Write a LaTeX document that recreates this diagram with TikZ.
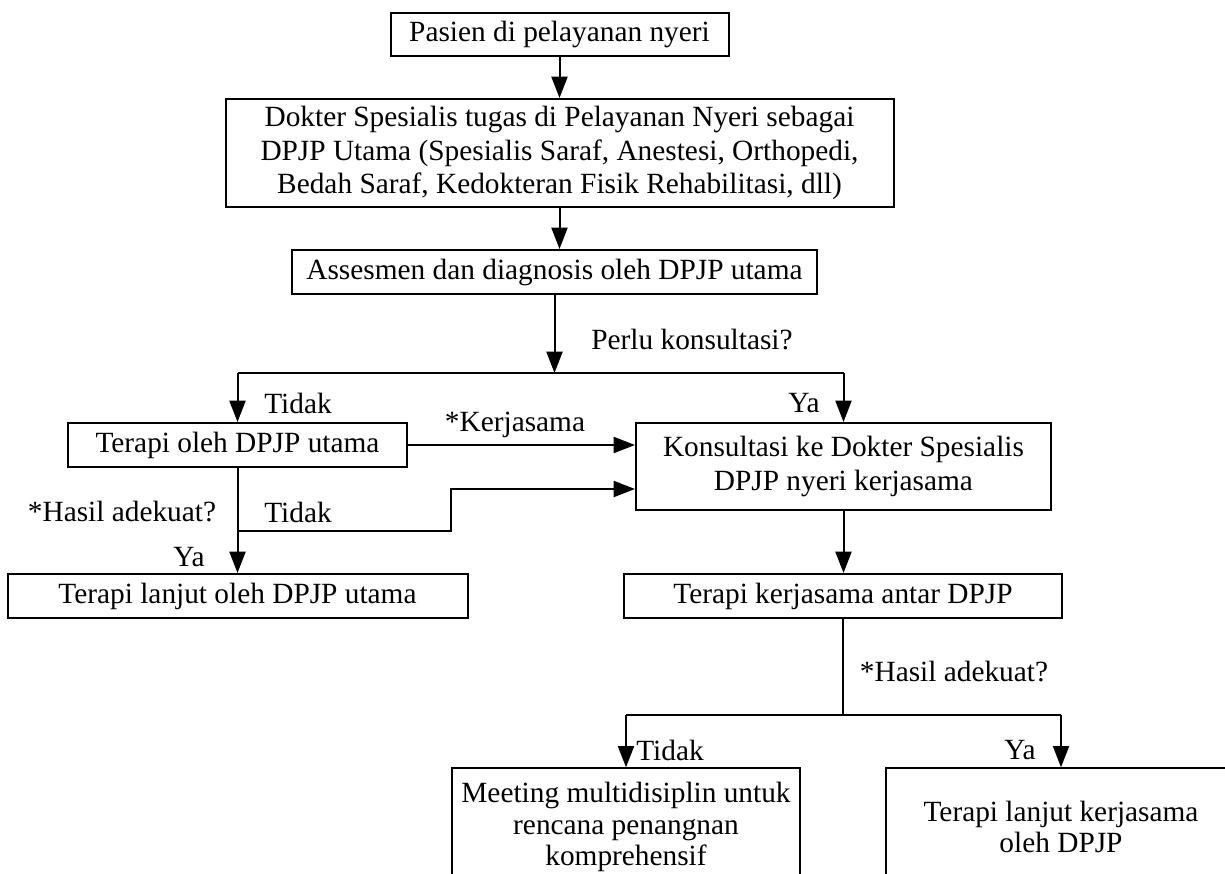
\documentclass[tikz,border=0pt]{standalone}
\usepackage{fontspec}
\setmainfont{Liberation Serif}
\usetikzlibrary{arrows.meta}
\begin{document}
\begin{tikzpicture}[x=0.75pt,y=-0.75pt,
  box/.style={draw,line width=1.5pt,inner sep=0pt,align=center,font=\fontsize{22}{25}\selectfont},
  lbl/.style={inner sep=0pt,font=\fontsize{22}{25}\selectfont},
  arr/.style={line width=1.5pt,-{Triangle[length=16pt,width=12pt]}},
  ln/.style={line width=1.5pt}]
\useasboundingbox (0,0) rectangle (1225,874);
\clip (0,0) rectangle (1225,874);
% boxes
\node[box,minimum width=253.5pt,minimum height=32.25pt] (b1) at (559.5,34.5) {Pasien di pelayanan nyeri};
\node[box,minimum width=501pt,minimum height=81pt] (b2) at (559.5,153) {Dokter Spesialis tugas di Pelayanan Nyeri sebagai\\DPJP Utama (Spesialis Saraf, Anestesi, Orthopedi,\\Bedah Saraf, Kedokteran Fisik Rehabilitasi, dll)};
\node[box,minimum width=393.75pt,minimum height=33pt] (b3) at (554.5,272) {Assesmen dan diagnosis oleh DPJP utama};
\node[box,minimum width=254.25pt,minimum height=33pt] (ter) at (237.5,445) {Terapi oleh DPJP utama};
\node[box,minimum width=311.25pt,minimum height=65.25pt] (kons) at (843.5,466.5) {Konsultasi ke Dokter Spesialis\\DPJP nyeri kerjasama};
\node[box,minimum width=345pt,minimum height=33pt] (lan) at (237.5,596) {Terapi lanjut oleh DPJP utama};
\node[box,minimum width=328.5pt,minimum height=33pt] (tk) at (843,596) {Terapi kerjasama antar DPJP};
\node[box,minimum width=261pt,minimum height=88pt,font=\fontsize{22}{23.5}\selectfont] (meet) at (626,827) {Meeting multidisiplin untuk\\rencana penangnan\\komprehensif};
\node[box,minimum width=262.5pt,minimum height=88pt,font=\fontsize{22}{23.5}\selectfont] (tlk) at (1061,827) {Terapi lanjut kerjasama\\oleh DPJP};
% labels
\node[lbl] (l1) at (692,340) {Perlu konsultasi?};
\node[lbl] (l2) at (298,403) {Tidak};
\node[lbl] (l3) at (804,403) {Ya};
\node[lbl] (l4) at (515,425) {*Kerjasama};
\node[lbl] (l5) at (122,512) {*Hasil adekuat?};
\node[lbl] (l6) at (298,512) {Tidak};
\node[lbl] (l7) at (189,557) {Ya};
\node[lbl] (l8) at (954,672) {*Hasil adekuat?};
\node[lbl] (l9) at (670,750) {Tidak};
\node[lbl] (l10) at (1020,750) {Ya};
% coordinates
\coordinate (f1) at (554.5,373);
\coordinate (f1l) at (237.5,373);
\coordinate (f1r) at (843.5,373);
\coordinate (j1) at (237.5,531);
\coordinate (j2) at (451,531);
\coordinate (j3) at (451,489);
\coordinate (f2) at (843,715);
\coordinate (f2l) at (626,715);
\coordinate (f2r) at (1061,715);
% connectors
\draw[arr] (b1.south) -- (b1.south |- b2.north);
\draw[arr] (b2.south) -- (b2.south |- b3.north);
\draw[arr] (b3.south) -- (f1);
\draw[ln] (f1l) -- (f1r);
\draw[arr] (f1l) -- (ter.north);
\draw[arr] (f1r) -- (kons.north);
\draw[arr] (ter.east) -- (ter.east -| kons.west);
\draw[arr] (ter.south) -- (lan.north);
\draw[arr] (j1) -- (j2) -- (j3) -- (j3 -| kons.west);
\draw[arr] (kons.south) -- (kons.south |- tk.north);
\draw[ln] (tk.south) -- (f2);
\draw[ln] (f2l) -- (f2r);
\draw[arr] (f2l) -- (meet.north);
\draw[arr] (f2r) -- (tlk.north);
\end{tikzpicture}
\end{document}
